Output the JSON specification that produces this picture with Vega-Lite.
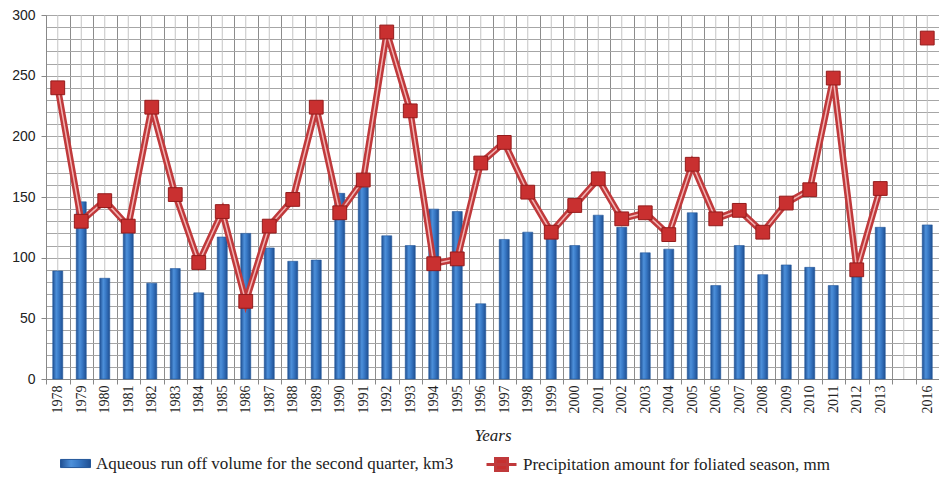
{
  "$schema": "https://vega.github.io/schema/vega-lite/v6.json",
  "autosize": "none",
  "width": 893,
  "height": 364,
  "padding": {"left": 46, "top": 15, "right": 0, "bottom": 107},
  "background": "white",
  "config": {
    "view": {"stroke": null},
    "axisQuantitative": {"labelOverlap": false}
  },
  "data": {"values": [
    {"year": "1978", "runoff": 89, "precip": 240},
    {"year": "1979", "runoff": 146, "precip": 130},
    {"year": "1980", "runoff": 83, "precip": 147},
    {"year": "1981", "runoff": 123, "precip": 126},
    {"year": "1982", "runoff": 79, "precip": 224},
    {"year": "1983", "runoff": 91, "precip": 152},
    {"year": "1984", "runoff": 71, "precip": 96},
    {"year": "1985", "runoff": 117, "precip": 138},
    {"year": "1986", "runoff": 120, "precip": 64},
    {"year": "1987", "runoff": 108, "precip": 126},
    {"year": "1988", "runoff": 97, "precip": 148},
    {"year": "1989", "runoff": 98, "precip": 224},
    {"year": "1990", "runoff": 153, "precip": 137},
    {"year": "1991", "runoff": 158, "precip": 164},
    {"year": "1992", "runoff": 118, "precip": 286},
    {"year": "1993", "runoff": 110, "precip": 221},
    {"year": "1994", "runoff": 140, "precip": 95},
    {"year": "1995", "runoff": 138, "precip": 99},
    {"year": "1996", "runoff": 62, "precip": 178},
    {"year": "1997", "runoff": 115, "precip": 195},
    {"year": "1998", "runoff": 121, "precip": 154},
    {"year": "1999", "runoff": 116, "precip": 121},
    {"year": "2000", "runoff": 110, "precip": 143},
    {"year": "2001", "runoff": 135, "precip": 165},
    {"year": "2002", "runoff": 125, "precip": 132},
    {"year": "2003", "runoff": 104, "precip": 137},
    {"year": "2004", "runoff": 107, "precip": 119},
    {"year": "2005", "runoff": 137, "precip": 177},
    {"year": "2006", "runoff": 77, "precip": 132},
    {"year": "2007", "runoff": 110, "precip": 139},
    {"year": "2008", "runoff": 86, "precip": 121},
    {"year": "2009", "runoff": 94, "precip": 145},
    {"year": "2010", "runoff": 92, "precip": 156},
    {"year": "2011", "runoff": 77, "precip": 248},
    {"year": "2012", "runoff": 84, "precip": 90},
    {"year": "2013", "runoff": 125, "precip": 157},
    {"year": " ", "runoff": null, "precip": null},
    {"year": "2016", "runoff": 127, "precip": 281}
  ]},
  "encoding": {
    "x": {"field": "year", "type": "nominal", "sort": null}
  },
  "layer": [
    {
      "mark": {"type": "rule", "color": "#c4c4c4", "strokeWidth": 1},
      "encoding": {
        "x": {"field": "year", "type": "nominal", "sort": null,
          "axis": {
            "title": "Years",
            "titleFont": "Liberation Serif", "titleFontStyle": "italic", "titleFontWeight": "normal",
            "titleFontSize": 17, "titleColor": "#222", "titlePadding": 14,
            "labelAngle": -90, "labelFont": "Liberation Serif", "labelFontSize": 14, "labelColor": "#222",
            "labelPadding": 1,
            "tickBand": "extent", "tickSize": 5, "tickColor": "#888",
            "grid": true, "gridColor": "#8c8c8c", "gridWidth": 1,
            "domainColor": "#888"
          }
        }
      }
    },
    {
      "mark": {"type": "bar", "size": 10, "strokeWidth": 0.6,
        "fill": {"gradient": "linear", "x1": 0, "x2": 1, "y1": 0, "y2": 0,
          "stops": [
            {"offset": 0, "color": "#1f4f92"},
            {"offset": 0.35, "color": "#4d90da"},
            {"offset": 0.6, "color": "#3879c6"},
            {"offset": 1, "color": "#1f4f92"}
          ]}
      },
      "encoding": {
        "y": {"field": "runoff", "type": "quantitative",
          "scale": {"domain": [0, 300], "nice": false},
          "axis": {
            "title": null,
            "values": [0,10,20,30,40,50,60,70,80,90,100,110,120,130,140,150,160,170,180,190,200,210,220,230,240,250,260,270,280,290,300],
            "labelExpr": "datum.value % 50 == 0 ? datum.label : ''",
            "labelOverlap": false,
            "labelFont": "Liberation Sans", "labelFontSize": 14, "labelColor": "#222", "labelPadding": 6,
            "tickSize": 5, "tickColor": "#888",
            "tickOpacity": {"condition": {"test": "datum.value % 50 == 0", "value": 1}, "value": 0},
            "grid": true, "gridColor": "#a6a6a6", "gridWidth": 1,
            "domainColor": "#888"
          }
        },
        "stroke": {"datum": "Aqueous run off volume for the second quarter, km3",
          "scale": {"range": ["#24579a"]},
          "legend": {
            "orient": "none", "legendX": 14, "legendY": 433, "title": null, "padding": 0,
            "symbolType": "M-1,-0.27H1V0.27H-1Z", "symbolSize": 900,
            "symbolFillColor": "#3272be", "symbolStrokeWidth": 1,
            "labelFont": "Liberation Serif", "labelFontSize": 17, "labelColor": "#222", "labelOffset": 5,
            "labelLimit": 500
          }
        }
      }
    },
    {
      "mark": {"type": "line", "strokeWidth": 6.5, "invalid": "break-paths-filter-domains", "strokeJoin": "miter"},
      "encoding": {
        "y": {"field": "precip", "type": "quantitative",
          "axis": {
            "title": null,
            "values": [0,10,20,30,40,50,60,70,80,90,100,110,120,130,140,150,160,170,180,190,200,210,220,230,240,250,260,270,280,290,300],
            "labelExpr": "datum.value % 50 == 0 ? datum.label : ''",
            "labelOverlap": false,
            "labelFont": "Liberation Sans", "labelFontSize": 14, "labelColor": "#222", "labelPadding": 6,
            "tickSize": 5, "tickColor": "#888",
            "tickOpacity": {"condition": {"test": "datum.value % 50 == 0", "value": 1}, "value": 0},
            "grid": true, "gridColor": "#a6a6a6", "gridWidth": 1,
            "domainColor": "#888"
          }
        },
        "color": {"datum": "Precipitation amount for foliated season, mm",
          "scale": {"range": ["#c0393b"]},
          "legend": {
            "orient": "none", "legendX": 439, "legendY": 433, "title": null, "padding": 0,
            "symbolType": "M-1,0H1M-0.4,-0.4H0.4V0.4H-0.4Z", "symbolSize": 900,
            "symbolFillColor": "#c62f2f", "symbolStrokeWidth": 3,
            "labelFont": "Liberation Serif", "labelFontSize": 17, "labelColor": "#222", "labelOffset": 5,
            "labelLimit": 500
          }
        }
      }
    },
    {
      "mark": {"type": "line", "strokeWidth": 1.5, "color": "#f2b5b5", "invalid": "break-paths-filter-domains"},
      "encoding": {
        "y": {"field": "precip", "type": "quantitative",
          "axis": {
            "title": null,
            "values": [0,10,20,30,40,50,60,70,80,90,100,110,120,130,140,150,160,170,180,190,200,210,220,230,240,250,260,270,280,290,300],
            "labelExpr": "datum.value % 50 == 0 ? datum.label : ''",
            "labelOverlap": false,
            "labelFont": "Liberation Sans", "labelFontSize": 14, "labelColor": "#222", "labelPadding": 6,
            "tickSize": 5, "tickColor": "#888",
            "tickOpacity": {"condition": {"test": "datum.value % 50 == 0", "value": 1}, "value": 0},
            "grid": true, "gridColor": "#a6a6a6", "gridWidth": 1,
            "domainColor": "#888"
          }
        }
      }
    },
    {
      "mark": {"type": "point", "shape": "square", "size": 190, "filled": true, "opacity": 1,
        "fill": "#c93030", "stroke": "#941b1b", "strokeWidth": 1},
      "encoding": {
        "y": {"field": "precip", "type": "quantitative",
          "axis": {
            "title": null,
            "values": [0,10,20,30,40,50,60,70,80,90,100,110,120,130,140,150,160,170,180,190,200,210,220,230,240,250,260,270,280,290,300],
            "labelExpr": "datum.value % 50 == 0 ? datum.label : ''",
            "labelOverlap": false,
            "labelFont": "Liberation Sans", "labelFontSize": 14, "labelColor": "#222", "labelPadding": 6,
            "tickSize": 5, "tickColor": "#888",
            "tickOpacity": {"condition": {"test": "datum.value % 50 == 0", "value": 1}, "value": 0},
            "grid": true, "gridColor": "#a6a6a6", "gridWidth": 1,
            "domainColor": "#888"
          }
        }
      }
    }
  ]
}
